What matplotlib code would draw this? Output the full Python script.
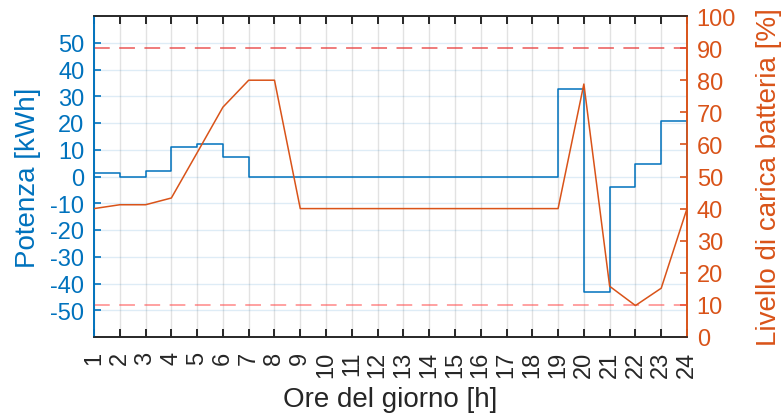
import matplotlib
matplotlib.use("Agg")
import matplotlib.pyplot as plt
import numpy as np

plt.rcParams['font.family'] = ['Liberation Sans', 'DejaVu Sans']
plt.rcParams['axes.unicode_minus'] = False

# Hours of the day
ore = list(range(1, 25))

# Power exchanged in each hour [kWh]
potenza = [1.2, 0.0, 1.9, 11.0, 12.2, 7.2, 0.0, 0.0, 0.0, 0.0, 0.0, 0.0,
           0.0, 0.0, 0.0, 0.0, 0.0, 0.0, 32.7, -43.0, -4.1, 4.6, 20.6, 0.0]

# Battery state of charge [%]
carica = [40.0, 41.2, 41.2, 43.3, 57.4, 71.6, 80.0, 80.0, 40.0, 40.0, 40.0, 40.0,
          40.0, 40.0, 40.0, 40.0, 40.0, 40.0, 40.0, 78.8, 15.8, 9.8, 15.2, 40.0]

# Charge limits [%]
limiti = [10, 90]

blu = '#0072BD'
arancio = '#D95319'
scuro = '#262626'

fig = plt.figure(figsize=(7.81, 4.14), dpi=100)
ax = fig.add_axes([94/781, 1-338/414, (687-94)/781, (338-17)/414])
ax2 = ax.twinx()

ax.step(ore, potenza, where='post', color=blu, lw=1.1, zorder=3)
ax.set_xlim(1, 24)
ax.set_ylim(-60, 60)
ax.set_yticks(np.arange(-50, 51, 10))
ax.set_xticks(ore)
ax.set_xticklabels([str(h) for h in ore], rotation=90, fontsize=17, color=scuro)
ax.tick_params(axis='y', colors=blu, labelsize=17, direction='in', length=5, width=1.2, pad=7)
ax.tick_params(axis='x', direction='in', length=5.5, width=1.4, top=True, colors=scuro, pad=10)
ax.set_ylabel('Potenza [kWh]', color=blu, fontsize=20, labelpad=7)
ax.set_xlabel('Ore del giorno [h]', color=scuro, fontsize=20, labelpad=6)

# Grid: vertical in grey, horizontal in the left axis colour
for h in ore:
    ax.axvline(h, color='#262626', alpha=0.13, lw=1, zorder=0)
for v in np.arange(-50, 51, 10):
    ax.axhline(v, color=blu, alpha=0.13, lw=1, zorder=0)

ax2.plot(ore, carica, color=arancio, lw=1.1, zorder=3)
ax2.axhline(limiti[1], color='#E83B3B', lw=1.1, ls=(0, (10.3, 6.2)), alpha=0.85)
ax2.axhline(limiti[0], color='#FF5555', lw=1.1, ls=(0, (10.3, 6.2)), alpha=0.7)
ax2.set_ylim(0, 100)
ax2.set_yticks(np.arange(0, 101, 10))
ax2.tick_params(axis='y', colors=arancio, labelsize=17, direction='in', length=5, width=1.2, pad=7)
ax2.set_ylabel('Livello di carica batteria [%]', color=arancio, fontsize=20, labelpad=14)

for a in (ax, ax2):
    a.spines['left'].set_color(blu)
    a.spines['right'].set_color(arancio)
    a.spines['top'].set_color(scuro)
    a.spines['bottom'].set_color(scuro)
    for s in a.spines.values():
        s.set_linewidth(1.2)

fig.savefig('out.png', dpi=100)
